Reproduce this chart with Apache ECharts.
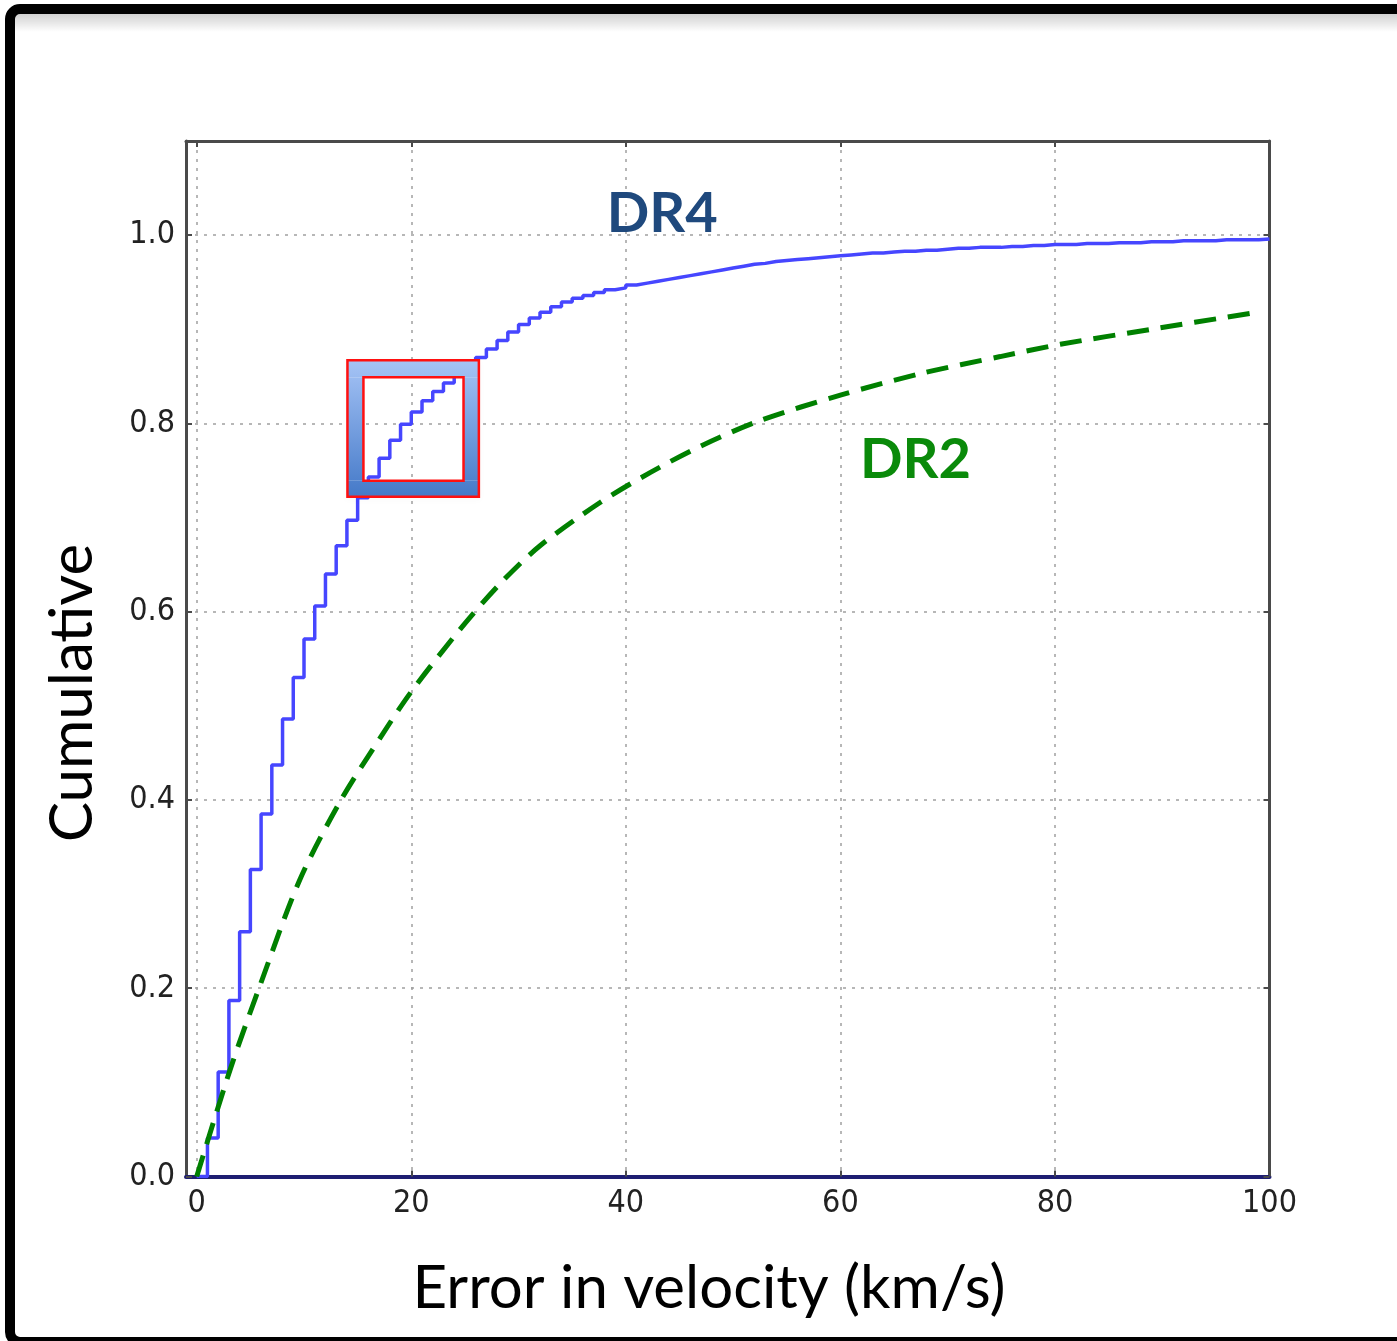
<!DOCTYPE html>
<html><head><meta charset="utf-8">
<script src="https://cdn.jsdelivr.net/npm/echarts@6/dist/echarts.min.js"></script>
<style>html,body{margin:0;padding:0;background:#fff;overflow:hidden}#c{width:1397px;height:1341px;}</style>
</head><body><div id="c"></div><script>
// DR4: cumulative fraction reached at each 1 km/s bin edge (step histogram)
const dr4Edges = [0,1,2,3,4,5,6,7,8,9,10,11,12,13,14,15,16,17,18,19,20,21,22,23,24,25,26,27,28,29,30,31,32,33,34,35,36,37,38,39,40,41,42,43,44,45,46,47,48,49,50,51,52,53,54,55,56,57,58,59,60,61,62,63,64,65,66,67,68,69,70,71,72,73,74,75,76,77,78,79,80,81,82,83,84,85,86,87,88,89,90,91,92,93,94,95,96,97,98,99,100];
const dr4Values = [0,0.041,0.111,0.187,0.260,0.326,0.385,0.437,0.486,0.530,0.571,0.606,0.640,0.670,0.697,0.721,0.743,0.763,0.782,0.799,0.812,0.824,0.834,0.843,0.852,0.861,0.870,0.879,0.888,0.897,0.905,0.912,0.918,0.924,0.929,0.933,0.936,0.939,0.942,0.944,0.947,0.949,0.951,0.953,0.955,0.957,0.959,0.961,0.963,0.965,0.967,0.969,0.970,0.972,0.973,0.974,0.975,0.976,0.977,0.978,0.979,0.980,0.981,0.981,0.982,0.983,0.983,0.984,0.984,0.985,0.986,0.986,0.987,0.987,0.987,0.988,0.988,0.989,0.989,0.990,0.990,0.990,0.991,0.991,0.991,0.992,0.992,0.992,0.993,0.993,0.993,0.994,0.994,0.994,0.994,0.995,0.995,0.995,0.995,0.996,0.996];
// DR2: smooth dashed cumulative curve
const dr2X = [0,3.1,5.9,9.6,13.4,17.1,20.0,24.6,28.3,32.0,37.6,42.3,47.0,52.5,60.0,67.5,74.9,80.5,89.0,98.3];
const dr2Y = [0,0.113,0.203,0.315,0.399,0.466,0.515,0.582,0.630,0.670,0.716,0.748,0.776,0.803,0.830,0.853,0.871,0.884,0.900,0.917];
const xTitle = 'Error in velocity (km/s)';
const yTitle = 'Cumulative';
// annotation positions (data coordinates)
const labelDR4 = {text:'DR4', x:43.4, y:1.022};
const labelDR2 = {text:'DR2', x:67.0, y:0.761};
const boxOuter = [14.05, 0.867, 26.3, 0.722];
const boxInner = [15.54, 0.849, 24.87, 0.739];

const tickFont = "'DejaVu Sans Condensed','Liberation Sans Narrow','DejaVu Sans',sans-serif";
const titleFont = "Lato,'Open Sans',sans-serif";

const chart = echarts.init(document.getElementById('c'), null, {renderer:'canvas'});
const dr4Data = dr4Edges.map((x,i)=>[x, dr4Values[i]]);
const dr2Data = dr2X.map((x,i)=>[x, dr2Y[i]]);
const frameColor = '#4a4a4a';
const axisCommon = {
  axisLine:{show:true, onZero:false, lineStyle:{color:frameColor, width:3}},
  axisTick:{show:true, inside:true, length:6, lineStyle:{color:frameColor, width:2}},
};
chart.setOption({
  animation:false,
  backgroundColor:'#ffffff',
  grid:{left:186, right:127.5, top:141, bottom:164.5, containLabel:false},
  xAxis:[{
    type:'value', min:-1, max:100, splitNumber:5, position:'bottom',
    ...axisCommon,
    axisLine:{show:true, onZero:false, lineStyle:{color:'#1e1e72', width:4}},
    axisLabel:{showMinLabel:false, margin:11, fontSize:32, fontFamily:tickFont, color:'#222',
      formatter:v=>String(Math.round(v))},
    splitLine:{show:true, lineStyle:{color:'#a0a0a0', width:1.5, type:[3,6]}}
  },{
    type:'value', min:-1, max:100, splitNumber:5, position:'top',
    ...axisCommon, axisLabel:{show:false}, splitLine:{show:false}
  }],
  yAxis:[{
    type:'value', min:0, max:1.1, interval:0.2, position:'left',
    ...axisCommon,
    axisLabel:{showMaxLabel:false, margin:11, fontSize:32, fontFamily:tickFont, color:'#222',
      formatter:v=>v.toFixed(1)},
    splitLine:{show:true, lineStyle:{color:'#a0a0a0', width:1.5, type:[3,6]}}
  },{
    type:'value', min:0, max:1.1, interval:0.2, position:'right',
    ...axisCommon, axisLabel:{show:false}, splitLine:{show:false}
  }],
  series:[{
    name:'DR4', type:'line', step:'end', data:dr4Data, showSymbol:false, symbol:'none',
    lineStyle:{color:'#4646ff', width:3.5}, z:3
  },{
    name:'DR2', type:'line', smooth:0.3, data:dr2Data, showSymbol:false, symbol:'none',
    lineStyle:{color:'#008000', width:5, type:[22,12]}, z:4
  }]
});

function px(x,y){ return chart.convertToPixel({gridIndex:0}, [x,y]); }
const oTL = px(boxOuter[0], boxOuter[1]), oBR = px(boxOuter[2], boxOuter[3]);
const iTL = px(boxInner[0], boxInner[1]), iBR = px(boxInner[2], boxInner[3]);
const grad = new echarts.graphic.LinearGradient(0, oTL[1], 0, oBR[1], [
  {offset:0, color:'#a6c4f6'},{offset:1, color:'#4479c8'}], true);
function band(x0,y0,x1,y1){ return {type:'rect', z:100, shape:{x:x0,y:y0,width:x1-x0,height:y1-y0}, style:{fill:grad}}; }
const p4 = px(labelDR4.x, labelDR4.y), p2 = px(labelDR2.x, labelDR2.y);
const gl = [
  // outer slide frame
  {type:'rect', z:200, shape:{x:10, y:9, width:1430, height:1333, r:10}, style:{fill:null, stroke:'#000', lineWidth:10}},
  {type:'rect', z:199, shape:{x:15, y:14, width:1400, height:18},
    style:{fill:new echarts.graphic.LinearGradient(0,0,0,1,[{offset:0,color:'rgba(0,0,0,0.18)'},{offset:1,color:'rgba(0,0,0,0)'}])}},
  // highlight box
  {type:'rect', z:99, shape:{x:oTL[0], y:oTL[1], width:oBR[0]-oTL[0], height:oBR[1]-oTL[1]},
    style:{fill:null, stroke:'rgba(0,0,0,0.25)', lineWidth:1, shadowBlur:6, shadowColor:'rgba(0,0,0,0.35)', shadowOffsetY:2}},
  band(oTL[0], oTL[1], oBR[0], iTL[1]),
  band(oTL[0], iBR[1], oBR[0], oBR[1]),
  band(oTL[0], iTL[1], iTL[0], iBR[1]),
  band(iBR[0], iTL[1], oBR[0], iBR[1]),
  {type:'rect', z:101, shape:{x:oTL[0], y:oTL[1], width:oBR[0]-oTL[0], height:oBR[1]-oTL[1]}, style:{fill:null, stroke:'#ff1010', lineWidth:2.5}},
  {type:'rect', z:101, shape:{x:iTL[0], y:iTL[1], width:iBR[0]-iTL[0], height:iBR[1]-iTL[1]}, style:{fill:null, stroke:'#ff1010', lineWidth:2.5}},
  // labels
  {type:'text', z:110, x:p4[0], y:p4[1], style:{text:labelDR4.text, fill:'#1f497d', font:'bold 56px '+titleFont, align:'center', verticalAlign:'middle'}},
  {type:'text', z:110, x:p2[0], y:p2[1], style:{text:labelDR2.text, fill:'#0a8a0a', font:'bold 56px '+titleFont, align:'center', verticalAlign:'middle'}},
  // axis titles
  {type:'text', z:110, x:709, y:1289, style:{text:xTitle, fill:'#000', font:'60px '+titleFont, align:'center', verticalAlign:'middle'}},
  {type:'text', z:110, x:73, y:693, rotation:Math.PI/2, style:{text:yTitle, fill:'#000', font:'60px '+titleFont, align:'center', verticalAlign:'middle'}}
];
chart.setOption({graphic:{elements:gl}});
</script></body></html>
